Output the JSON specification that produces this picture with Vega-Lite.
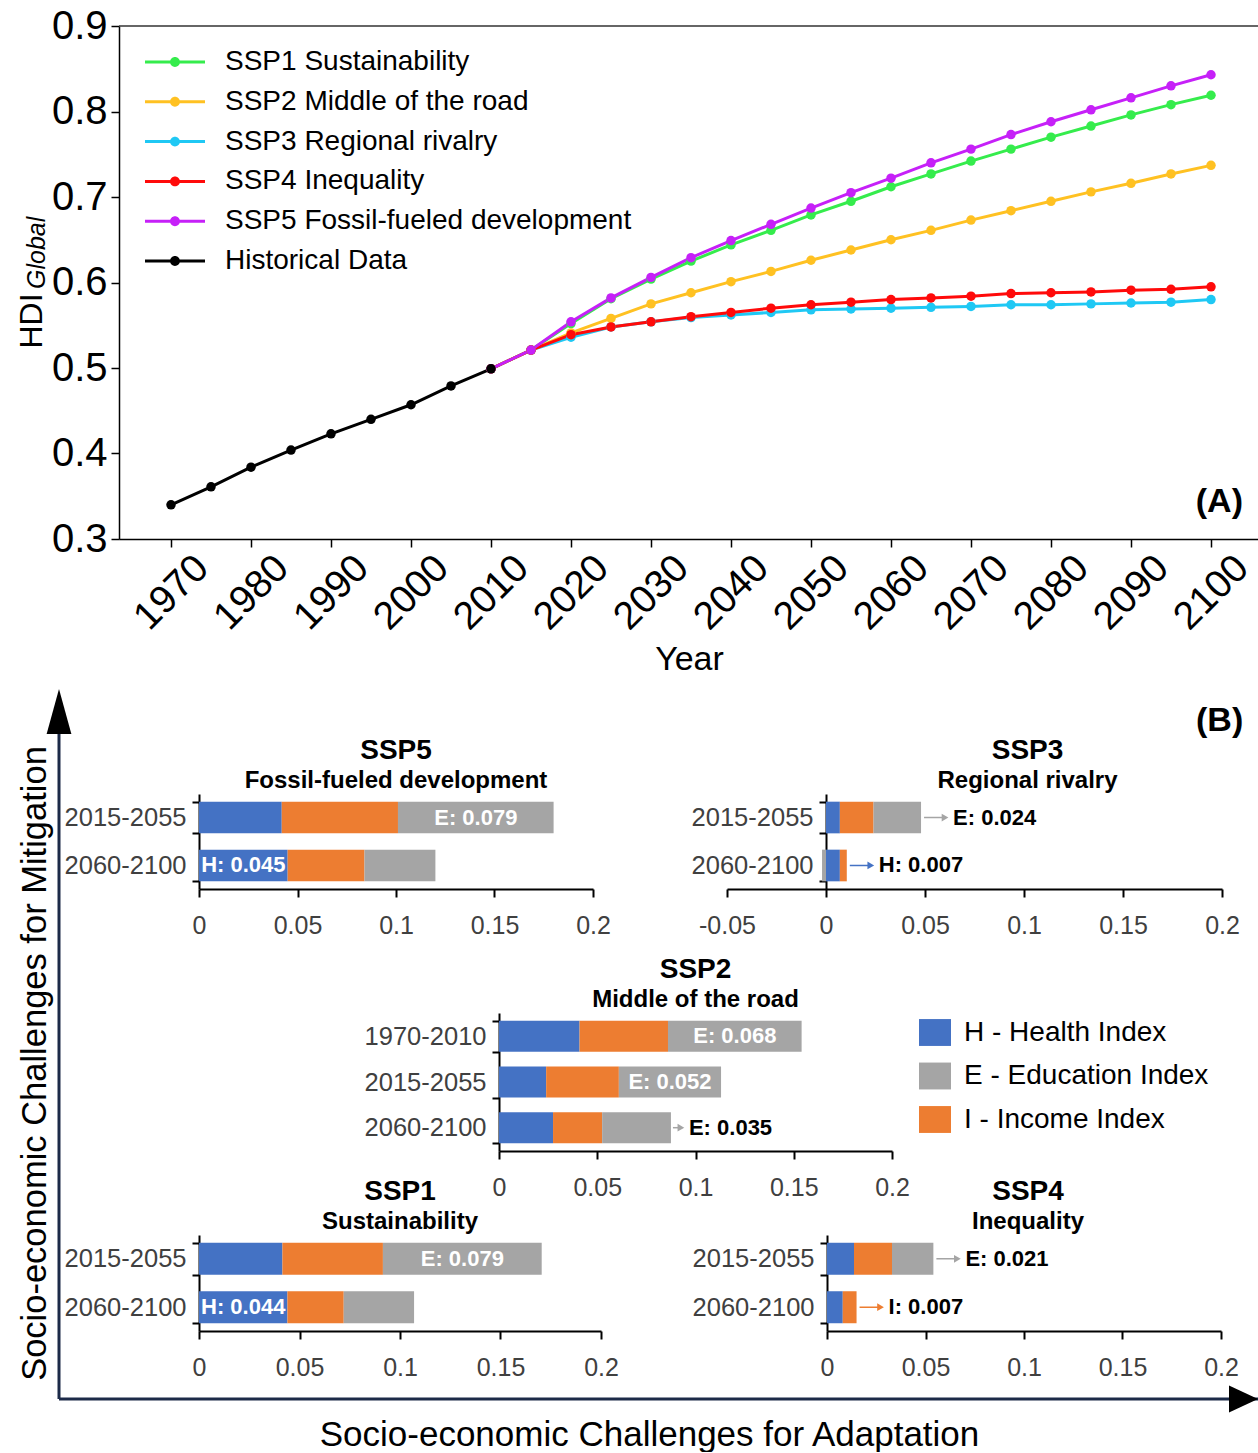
{
"$schema": "https://vega.github.io/schema/vega-lite/v6.json",
"padding": {"left": 15, "top": 6, "right": 0, "bottom": 0},
"config": {
 "font": "Liberation Sans",
 "view": {"stroke": null},
 "axis": {"grid": false, "domainColor": "black", "tickColor": "black", "labelColor": "black", "titleColor": "black", "titleFontWeight": "normal"},
 "title": {"color": "black", "subtitleColor": "black"},
 "legend": {"labelColor": "black"}
},
"datasets": {
 "hdi": [
  {"s":"SSP3 Regional rivalry","year":2010,"v":0.499},{"s":"SSP3 Regional rivalry","year":2015,"v":0.521},{"s":"SSP3 Regional rivalry","year":2020,"v":0.536},{"s":"SSP3 Regional rivalry","year":2025,"v":0.548},{"s":"SSP3 Regional rivalry","year":2030,"v":0.554},{"s":"SSP3 Regional rivalry","year":2035,"v":0.559},{"s":"SSP3 Regional rivalry","year":2040,"v":0.562},{"s":"SSP3 Regional rivalry","year":2045,"v":0.565},{"s":"SSP3 Regional rivalry","year":2050,"v":0.568},{"s":"SSP3 Regional rivalry","year":2055,"v":0.569},{"s":"SSP3 Regional rivalry","year":2060,"v":0.570},{"s":"SSP3 Regional rivalry","year":2065,"v":0.571},{"s":"SSP3 Regional rivalry","year":2070,"v":0.572},{"s":"SSP3 Regional rivalry","year":2075,"v":0.574},{"s":"SSP3 Regional rivalry","year":2080,"v":0.574},{"s":"SSP3 Regional rivalry","year":2085,"v":0.575},{"s":"SSP3 Regional rivalry","year":2090,"v":0.576},{"s":"SSP3 Regional rivalry","year":2095,"v":0.577},{"s":"SSP3 Regional rivalry","year":2100,"v":0.580},
  {"s":"SSP1 Sustainability","year":2010,"v":0.499},{"s":"SSP1 Sustainability","year":2015,"v":0.521},{"s":"SSP1 Sustainability","year":2020,"v":0.552},{"s":"SSP1 Sustainability","year":2025,"v":0.581},{"s":"SSP1 Sustainability","year":2030,"v":0.604},{"s":"SSP1 Sustainability","year":2035,"v":0.625},{"s":"SSP1 Sustainability","year":2040,"v":0.644},{"s":"SSP1 Sustainability","year":2045,"v":0.661},{"s":"SSP1 Sustainability","year":2050,"v":0.679},{"s":"SSP1 Sustainability","year":2055,"v":0.695},{"s":"SSP1 Sustainability","year":2060,"v":0.712},{"s":"SSP1 Sustainability","year":2065,"v":0.727},{"s":"SSP1 Sustainability","year":2070,"v":0.742},{"s":"SSP1 Sustainability","year":2075,"v":0.756},{"s":"SSP1 Sustainability","year":2080,"v":0.770},{"s":"SSP1 Sustainability","year":2085,"v":0.783},{"s":"SSP1 Sustainability","year":2090,"v":0.796},{"s":"SSP1 Sustainability","year":2095,"v":0.808},{"s":"SSP1 Sustainability","year":2100,"v":0.819},
  {"s":"SSP2 Middle of the road","year":2010,"v":0.499},{"s":"SSP2 Middle of the road","year":2015,"v":0.521},{"s":"SSP2 Middle of the road","year":2020,"v":0.541},{"s":"SSP2 Middle of the road","year":2025,"v":0.558},{"s":"SSP2 Middle of the road","year":2030,"v":0.575},{"s":"SSP2 Middle of the road","year":2035,"v":0.588},{"s":"SSP2 Middle of the road","year":2040,"v":0.601},{"s":"SSP2 Middle of the road","year":2045,"v":0.613},{"s":"SSP2 Middle of the road","year":2050,"v":0.626},{"s":"SSP2 Middle of the road","year":2055,"v":0.638},{"s":"SSP2 Middle of the road","year":2060,"v":0.650},{"s":"SSP2 Middle of the road","year":2065,"v":0.661},{"s":"SSP2 Middle of the road","year":2070,"v":0.673},{"s":"SSP2 Middle of the road","year":2075,"v":0.684},{"s":"SSP2 Middle of the road","year":2080,"v":0.695},{"s":"SSP2 Middle of the road","year":2085,"v":0.706},{"s":"SSP2 Middle of the road","year":2090,"v":0.716},{"s":"SSP2 Middle of the road","year":2095,"v":0.727},{"s":"SSP2 Middle of the road","year":2100,"v":0.737},
  {"s":"SSP4 Inequality","year":2010,"v":0.499},{"s":"SSP4 Inequality","year":2015,"v":0.521},{"s":"SSP4 Inequality","year":2020,"v":0.539},{"s":"SSP4 Inequality","year":2025,"v":0.548},{"s":"SSP4 Inequality","year":2030,"v":0.554},{"s":"SSP4 Inequality","year":2035,"v":0.560},{"s":"SSP4 Inequality","year":2040,"v":0.565},{"s":"SSP4 Inequality","year":2045,"v":0.570},{"s":"SSP4 Inequality","year":2050,"v":0.574},{"s":"SSP4 Inequality","year":2055,"v":0.577},{"s":"SSP4 Inequality","year":2060,"v":0.580},{"s":"SSP4 Inequality","year":2065,"v":0.582},{"s":"SSP4 Inequality","year":2070,"v":0.584},{"s":"SSP4 Inequality","year":2075,"v":0.587},{"s":"SSP4 Inequality","year":2080,"v":0.588},{"s":"SSP4 Inequality","year":2085,"v":0.589},{"s":"SSP4 Inequality","year":2090,"v":0.591},{"s":"SSP4 Inequality","year":2095,"v":0.592},{"s":"SSP4 Inequality","year":2100,"v":0.595},
  {"s":"SSP5 Fossil-fueled development","year":2010,"v":0.499},{"s":"SSP5 Fossil-fueled development","year":2015,"v":0.521},{"s":"SSP5 Fossil-fueled development","year":2020,"v":0.554},{"s":"SSP5 Fossil-fueled development","year":2025,"v":0.582},{"s":"SSP5 Fossil-fueled development","year":2030,"v":0.606},{"s":"SSP5 Fossil-fueled development","year":2035,"v":0.629},{"s":"SSP5 Fossil-fueled development","year":2040,"v":0.649},{"s":"SSP5 Fossil-fueled development","year":2045,"v":0.668},{"s":"SSP5 Fossil-fueled development","year":2050,"v":0.687},{"s":"SSP5 Fossil-fueled development","year":2055,"v":0.705},{"s":"SSP5 Fossil-fueled development","year":2060,"v":0.722},{"s":"SSP5 Fossil-fueled development","year":2065,"v":0.740},{"s":"SSP5 Fossil-fueled development","year":2070,"v":0.756},{"s":"SSP5 Fossil-fueled development","year":2075,"v":0.773},{"s":"SSP5 Fossil-fueled development","year":2080,"v":0.788},{"s":"SSP5 Fossil-fueled development","year":2085,"v":0.802},{"s":"SSP5 Fossil-fueled development","year":2090,"v":0.816},{"s":"SSP5 Fossil-fueled development","year":2095,"v":0.830},{"s":"SSP5 Fossil-fueled development","year":2100,"v":0.843},
  {"s":"Historical Data","year":1970,"v":0.340},{"s":"Historical Data","year":1975,"v":0.361},{"s":"Historical Data","year":1980,"v":0.384},{"s":"Historical Data","year":1985,"v":0.404},{"s":"Historical Data","year":1990,"v":0.423},{"s":"Historical Data","year":1995,"v":0.440},{"s":"Historical Data","year":2000,"v":0.457},{"s":"Historical Data","year":2005,"v":0.479},{"s":"Historical Data","year":2010,"v":0.499}
 ],
 "bars": [
  {"panel":"SSP5","period":"2015-2055","index":"H","ord":1,"value":0.042},
  {"panel":"SSP5","period":"2015-2055","index":"I","ord":2,"value":0.059},
  {"panel":"SSP5","period":"2015-2055","index":"E","ord":3,"value":0.079,"lab_in":"E: 0.079"},
  {"panel":"SSP5","period":"2060-2100","index":"H","ord":1,"value":0.045,"lab_in":"H: 0.045"},
  {"panel":"SSP5","period":"2060-2100","index":"I","ord":2,"value":0.039},
  {"panel":"SSP5","period":"2060-2100","index":"E","ord":3,"value":0.036},
  {"panel":"SSP3","period":"2015-2055","index":"H","ord":1,"value":0.007},
  {"panel":"SSP3","period":"2015-2055","index":"I","ord":2,"value":0.017},
  {"panel":"SSP3","period":"2015-2055","index":"E","ord":3,"value":0.024,"lab_out":"E: 0.024"},
  {"panel":"SSP3","period":"2060-2100","index":"H","ord":1,"value":0.007,"lab_out":"H: 0.007"},
  {"panel":"SSP3","period":"2060-2100","index":"I","ord":2,"value":0.0035},
  {"panel":"SSP3","period":"2060-2100","index":"E","ord":3,"value":-0.002},
  {"panel":"SSP2","period":"1970-2010","index":"H","ord":1,"value":0.041},
  {"panel":"SSP2","period":"1970-2010","index":"I","ord":2,"value":0.045},
  {"panel":"SSP2","period":"1970-2010","index":"E","ord":3,"value":0.068,"lab_in":"E: 0.068"},
  {"panel":"SSP2","period":"2015-2055","index":"H","ord":1,"value":0.024},
  {"panel":"SSP2","period":"2015-2055","index":"I","ord":2,"value":0.037},
  {"panel":"SSP2","period":"2015-2055","index":"E","ord":3,"value":0.052,"lab_in":"E: 0.052"},
  {"panel":"SSP2","period":"2060-2100","index":"H","ord":1,"value":0.0275},
  {"panel":"SSP2","period":"2060-2100","index":"I","ord":2,"value":0.025},
  {"panel":"SSP2","period":"2060-2100","index":"E","ord":3,"value":0.035,"lab_out":"E: 0.035"},
  {"panel":"SSP1","period":"2015-2055","index":"H","ord":1,"value":0.0415},
  {"panel":"SSP1","period":"2015-2055","index":"I","ord":2,"value":0.050},
  {"panel":"SSP1","period":"2015-2055","index":"E","ord":3,"value":0.079,"lab_in":"E: 0.079"},
  {"panel":"SSP1","period":"2060-2100","index":"H","ord":1,"value":0.044,"lab_in":"H: 0.044"},
  {"panel":"SSP1","period":"2060-2100","index":"I","ord":2,"value":0.028},
  {"panel":"SSP1","period":"2060-2100","index":"E","ord":3,"value":0.035},
  {"panel":"SSP4","period":"2015-2055","index":"H","ord":1,"value":0.0137},
  {"panel":"SSP4","period":"2015-2055","index":"I","ord":2,"value":0.0193},
  {"panel":"SSP4","period":"2015-2055","index":"E","ord":3,"value":0.021,"lab_out":"E: 0.021"},
  {"panel":"SSP4","period":"2060-2100","index":"H","ord":1,"value":0.008},
  {"panel":"SSP4","period":"2060-2100","index":"I","ord":2,"value":0.007,"lab_out":"I: 0.007"},
  {"panel":"SSP4","period":"2060-2100","index":"E","ord":3,"value":0.0}
 ]
},
"bounds": "flush",
"spacing": 768,
"vconcat": [
 {"bounds": "flush", "spacing": 0, "hconcat": [
  {"width": 60, "height": 513, "data": {"values": []}, "mark": "point"},
  {"width": 1140, "height": 513, "data": {"name": "hdi"},
   "layer": [
    {"data": {"values": [{}]}, "mark": {"type": "rule", "color": "#333333", "strokeWidth": 1.5}, "encoding": {"y": {"datum": 0.9, "type": "quantitative"}}},
    {"mark": {"type": "line", "strokeWidth": 3},
     "encoding": {
      "x": {"field": "year", "type": "quantitative", "scale": {"domain": [1963.5, 2106], "nice": false, "zero": false},
            "axis": {"title": "Year", "titleFontSize": 34, "titlePadding": 6, "values": [1970,1980,1990,2000,2010,2020,2030,2040,2050,2060,2070,2080,2090,2100], "format": "d", "labelAngle": -45, "labelAlign": "center", "labelBaseline": "middle", "labelFontSize": 39, "labelPadding": 45, "tickSize": 8, "tickWidth": 1.5, "domainWidth": 1.5, "labelFlush": false, "labelOverlap": false}},
      "y": {"field": "v", "type": "quantitative", "scale": {"domain": [0.3, 0.9], "nice": false, "zero": false},
            "axis": {"title": "HDI", "titleFontSize": 32, "titleX": -78, "titleY": 322, "titleAngle": 270, "titleAlign": "left", "titleBaseline": "alphabetic", "values": [0.3,0.4,0.5,0.6,0.7,0.8,0.9], "format": ".1f", "labelFontSize": 40, "labelPadding": 4, "tickSize": 8, "tickWidth": 1.5, "domainWidth": 1.5, "labelFlush": false, "labelOverlap": false}},
      "stroke": {"field": "s", "type": "nominal", "scale": {"domain": ["SSP1 Sustainability","SSP2 Middle of the road","SSP3 Regional rivalry","SSP4 Inequality","SSP5 Fossil-fueled development","Historical Data"], "range": ["#35EC4C","#FFC122","#1FC8F4","#FF0A0A","#C620F8","#000000"]},
       "legend": {"orient": "none", "legendX": 101, "legendY": 21, "title": null, "symbolType": "M-2,-0.1L2,-0.1L2,0.1L-2,0.1Z M0.33,0A0.33,0.33 0 1 1 -0.33,0A0.33,0.33 0 1 1 0.33,0Z", "symbolSize": 900, "symbolStrokeWidth": 0, "symbolOpacity": 1, "labelFontSize": 28, "labelOffset": 35, "rowPadding": 10.8, "padding": 0, "labelLimit": 600}}
     }},
    {"mark": {"type": "point", "filled": true, "size": 90, "opacity": 1},
     "encoding": {
      "x": {"field": "year", "type": "quantitative"},
      "y": {"field": "v", "type": "quantitative"},
      "fill": {"field": "s", "type": "nominal", "scale": {"domain": ["SSP1 Sustainability","SSP2 Middle of the road","SSP3 Regional rivalry","SSP4 Inequality","SSP5 Fossil-fueled development","Historical Data"], "range": ["#35EC4C","#FFC122","#1FC8F4","#FF0A0A","#C620F8","#000000"]},
       "legend": {"orient": "none", "legendX": 101, "legendY": 21, "title": null, "symbolType": "M-2,-0.1L2,-0.1L2,0.1L-2,0.1Z M0.33,0A0.33,0.33 0 1 1 -0.33,0A0.33,0.33 0 1 1 0.33,0Z", "symbolSize": 900, "symbolStrokeWidth": 0, "symbolOpacity": 1, "labelFontSize": 28, "labelOffset": 35, "rowPadding": 10.8, "padding": 0, "labelLimit": 600}}
     }},
    {"data": {"values": [{}]}, "mark": {"type": "text", "text": "(A)", "fontSize": 34, "fontWeight": "bold", "align": "right", "baseline": "alphabetic", "color": "black"},
     "encoding": {"x": {"datum": 2104, "type": "quantitative"}, "y": {"datum": 0.331, "type": "quantitative"}}},
    {"data": {"values": [{}]}, "mark": {"type": "text", "text": "Global", "fontSize": 25, "fontStyle": "italic", "angle": 270, "align": "left", "baseline": "alphabetic", "color": "black"},
     "encoding": {"x": {"datum": 1954.25, "type": "quantitative"}, "y": {"datum": 0.5924, "type": "quantitative"}}}
   ]}
 ]},
 {"bounds": "flush", "spacing": 605, "vconcat": [
  {"bounds": "flush", "spacing": 0, "hconcat": [
   {"width": 140, "height": 605, "data": {"values": [{}]},
    "layer": [
     {"mark": {"type": "rule", "color": "#1c2a48", "strokeWidth": 3, "y2Offset": -93},
      "encoding": {"x": {"datum": 0, "type": "quantitative", "scale": {"domain": [0, 1]}, "axis": null},
                   "y": {"datum": 0, "type": "quantitative", "scale": {"domain": [0, 1]},
                         "axis": {"domain": false, "ticks": false, "labels": false, "title": "Socio-economic Challenges for Mitigation", "titleFontSize": 34.5, "titleX": -14, "titleY": 269, "titleAngle": 270, "titleAlign": "center", "titleBaseline": "alphabetic"}},
                   "y2": {"datum": 1}}},
     {"mark": {"type": "point", "shape": "M-0.55,0L0,-2L0.55,0Z", "size": 2025, "filled": true, "color": "#000000", "opacity": 1, "yOffset": -60},
      "encoding": {"x": {"datum": 0, "type": "quantitative"}, "y": {"datum": 1, "type": "quantitative"}}}
    ]},
   {"bounds": "flush", "spacing": 219, "vconcat": [
    {"bounds": "flush", "spacing": 134,
     "title": {"text": "(B)", "anchor": "start", "frame": "group", "fontSize": 34, "fontWeight": "bold", "dx": 997, "offset": -1},
     "hconcat": [
     {"width": 394, "height": 95,
      "title": {"text": "SSP5", "subtitle": "Fossil-fueled  development", "fontSize": 28, "fontWeight": "bold", "subtitleFontSize": 24, "subtitleFontWeight": "bold", "anchor": "middle", "frame": "group", "offset": -11, "subtitlePadding": 4},
      "data": {"name": "bars"},
      "transform": [
       {"filter": "datum.panel == 'SSP5'"},
       {"stack": "value", "groupby": ["period"], "sort": [{"field": "ord", "order": "ascending"}], "as": ["x0", "x1"]},
       {"calculate": "(datum.x0 + datum.x1) / 2", "as": "xm"},
       {"joinaggregate": [{"op": "max", "field": "x1", "as": "xend"}], "groupby": ["period"]}
      ],
      "encoding": {"y": {"field": "period", "type": "nominal", "scale": {"type": "band", "paddingInner": 0.34, "paddingOuter": 0.16},
                         "axis": {"title": null, "tickBand": "extent", "tickSize": 7, "tickWidth": 2, "domainWidth": 2, "labelPadding": 6, "labelFontSize": 25.5, "labelColor": "#404040"}}},
      "layer": [
       {"mark": {"type": "bar"},
        "encoding": {"x": {"field": "x0", "type": "quantitative", "scale": {"domain": [0, 0.2], "nice": false},
                           "axis": {"title": null, "values": [0,0.05,0.1,0.15,0.2], "labelExpr": "format(datum.value, '~g')", "tickSize": 8, "tickWidth": 2, "domainWidth": 2, "labelPadding": 16, "labelFontSize": 25, "labelColor": "#404040", "labelFlush": false, "labelOverlap": false}},
                     "x2": {"field": "x1"},
                     "color": {"field": "index", "type": "nominal", "scale": {"domain": ["H","E","I"], "range": ["#4472C4","#A5A5A5","#ED7D31"]},
                               "legend": {"orient": "none", "legendX": 860, "legendY": 990.5, "title": null, "symbolType": "M-1,-0.84L1,-0.84L1,0.84L-1,0.84Z", "symbolSize": 1024, "symbolStrokeWidth": 0, "symbolOpacity": 1, "labelFontSize": 28, "labelOffset": 13, "rowPadding": 13.5, "padding": 0, "labelLimit": 400, "labelExpr": "datum.label == 'H' ? 'H - Health Index' : datum.label == 'E' ? 'E - Education Index' : 'I - Income Index'"}}}},
       {"transform": [{"filter": "isValid(datum.lab_in)"}],
        "mark": {"type": "text", "align": "center", "baseline": "middle", "fontSize": 22, "fontWeight": "bold", "color": "white"},
        "encoding": {"x": {"field": "xm", "type": "quantitative"}, "text": {"field": "lab_in"}}}
      ]},
     {"width": 495, "height": 95,
      "title": {"text": "SSP3", "subtitle": "Regional  rivalry", "fontSize": 28, "fontWeight": "bold", "subtitleFontSize": 24, "subtitleFontWeight": "bold", "anchor": "middle", "frame": "group", "offset": -11, "subtitlePadding": 4, "dx": 53},
      "data": {"name": "bars"},
      "transform": [
       {"filter": "datum.panel == 'SSP3'"},
       {"stack": "value", "groupby": ["period"], "sort": [{"field": "ord", "order": "ascending"}], "as": ["x0", "x1"]},
       {"calculate": "(datum.x0 + datum.x1) / 2", "as": "xm"},
       {"joinaggregate": [{"op": "max", "field": "x1", "as": "xend"}], "groupby": ["period"]}
      ],
      "encoding": {"y": {"field": "period", "type": "nominal", "scale": {"type": "band", "paddingInner": 0.34, "paddingOuter": 0.16},
                         "axis": {"title": null, "offset": -99, "tickBand": "extent", "tickSize": 7, "tickWidth": 2, "domainWidth": 2, "labelPadding": 6, "labelFontSize": 25.5, "labelColor": "#404040"}}},
      "layer": [
       {"mark": {"type": "bar"},
        "encoding": {"x": {"field": "x0", "type": "quantitative", "scale": {"domain": [-0.05, 0.2], "nice": false, "zero": false},
                           "axis": {"title": null, "values": [-0.05,0,0.05,0.1,0.15,0.2], "labelExpr": "datum.value < 0 ? '-' + format(-datum.value, '~g') : format(datum.value, '~g')", "tickSize": 8, "tickWidth": 2, "domainWidth": 2, "labelPadding": 16, "labelFontSize": 25, "labelColor": "#404040", "labelFlush": false, "labelOverlap": false}},
                     "x2": {"field": "x1"},
                     "color": {"field": "index", "type": "nominal", "scale": {"domain": ["H","E","I"], "range": ["#4472C4","#A5A5A5","#ED7D31"]},
                               "legend": {"orient": "none", "legendX": 860, "legendY": 990.5, "title": null, "symbolType": "M-1,-0.84L1,-0.84L1,0.84L-1,0.84Z", "symbolSize": 1024, "symbolStrokeWidth": 0, "symbolOpacity": 1, "labelFontSize": 28, "labelOffset": 13, "rowPadding": 13.5, "padding": 0, "labelLimit": 400, "labelExpr": "datum.label == 'H' ? 'H - Health Index' : datum.label == 'E' ? 'E - Education Index' : 'I - Income Index'"}}}},
       {"transform": [{"filter": "isValid(datum.lab_out)"}],
        "mark": {"type": "rule", "strokeWidth": 1.5, "xOffset": 3, "x2Offset": 22},
        "encoding": {"x": {"field": "xend", "type": "quantitative"}, "x2": {"field": "xend"}, "color": {"field": "index", "type": "nominal", "legend": null}}},
       {"transform": [{"filter": "isValid(datum.lab_out)"}],
        "mark": {"type": "point", "shape": "triangle-right", "filled": true, "size": 60, "opacity": 1, "xOffset": 24},
        "encoding": {"x": {"field": "xend", "type": "quantitative"}, "color": {"field": "index", "type": "nominal", "legend": null}}},
       {"transform": [{"filter": "isValid(datum.lab_out)"}],
        "mark": {"type": "text", "align": "left", "baseline": "middle", "dx": 32, "fontSize": 22, "fontWeight": "bold", "color": "black"},
        "encoding": {"x": {"field": "xend", "type": "quantitative"}, "text": {"field": "lab_out"}}}
      ]}
    ]},
    {"bounds": "flush", "spacing": 222, "vconcat": [
     {"bounds": "flush", "spacing": 0, "hconcat": [
      {"width": 300, "height": 138, "data": {"values": []}, "mark": "point"},
      {"width": 393, "height": 138,
       "title": {"text": "SSP2", "subtitle": "Middle of the road", "fontSize": 28, "fontWeight": "bold", "subtitleFontSize": 24, "subtitleFontWeight": "bold", "anchor": "middle", "frame": "group", "offset": -11, "subtitlePadding": 4},
       "data": {"name": "bars"},
       "transform": [
        {"filter": "datum.panel == 'SSP2'"},
        {"stack": "value", "groupby": ["period"], "sort": [{"field": "ord", "order": "ascending"}], "as": ["x0", "x1"]},
        {"calculate": "(datum.x0 + datum.x1) / 2", "as": "xm"},
        {"joinaggregate": [{"op": "max", "field": "x1", "as": "xend"}], "groupby": ["period"]}
       ],
       "encoding": {"y": {"field": "period", "type": "nominal", "scale": {"type": "band", "paddingInner": 0.32, "paddingOuter": 0.17},
                          "axis": {"title": null, "tickBand": "extent", "tickSize": 7, "tickWidth": 2, "domainWidth": 2, "labelPadding": 6, "labelFontSize": 25.5, "labelColor": "#404040"}}},
       "layer": [
        {"mark": {"type": "bar"},
         "encoding": {"x": {"field": "x0", "type": "quantitative", "scale": {"domain": [0, 0.2], "nice": false},
                            "axis": {"title": null, "values": [0,0.05,0.1,0.15,0.2], "labelExpr": "format(datum.value, '~g')", "tickSize": 8, "tickWidth": 2, "domainWidth": 2, "labelPadding": 16, "labelFontSize": 25, "labelColor": "#404040", "labelFlush": false, "labelOverlap": false}},
                      "x2": {"field": "x1"},
                      "color": {"field": "index", "type": "nominal", "scale": {"domain": ["H","E","I"], "range": ["#4472C4","#A5A5A5","#ED7D31"]},
                                "legend": {"orient": "none", "legendX": 860, "legendY": 990.5, "title": null, "symbolType": "M-1,-0.84L1,-0.84L1,0.84L-1,0.84Z", "symbolSize": 1024, "symbolStrokeWidth": 0, "symbolOpacity": 1, "labelFontSize": 28, "labelOffset": 13, "rowPadding": 13.5, "padding": 0, "labelLimit": 400, "labelExpr": "datum.label == 'H' ? 'H - Health Index' : datum.label == 'E' ? 'E - Education Index' : 'I - Income Index'"}}}},
        {"transform": [{"filter": "isValid(datum.lab_in)"}],
         "mark": {"type": "text", "align": "center", "baseline": "middle", "fontSize": 22, "fontWeight": "bold", "color": "white"},
         "encoding": {"x": {"field": "xm", "type": "quantitative"}, "text": {"field": "lab_in"}}},
        {"transform": [{"filter": "isValid(datum.lab_out)"}],
         "mark": {"type": "rule", "strokeWidth": 1.5, "xOffset": 2, "x2Offset": 8},
         "encoding": {"x": {"field": "xend", "type": "quantitative"}, "x2": {"field": "xend"}, "color": {"field": "index", "type": "nominal", "legend": null}}},
        {"transform": [{"filter": "isValid(datum.lab_out)"}],
         "mark": {"type": "point", "shape": "triangle-right", "filled": true, "size": 60, "opacity": 1, "xOffset": 10},
         "encoding": {"x": {"field": "xend", "type": "quantitative"}, "color": {"field": "index", "type": "nominal", "legend": null}}},
        {"transform": [{"filter": "isValid(datum.lab_out)"}],
         "mark": {"type": "text", "align": "left", "baseline": "middle", "dx": 18, "fontSize": 22, "fontWeight": "bold", "color": "black"},
         "encoding": {"x": {"field": "xend", "type": "quantitative"}, "text": {"field": "lab_out"}}}
       ]}
     ]},
     {"bounds": "flush", "spacing": 226, "hconcat": [
      {"width": 402, "height": 96,
       "title": {"text": "SSP1", "subtitle": "Sustainability", "fontSize": 28, "fontWeight": "bold", "subtitleFontSize": 24, "subtitleFontWeight": "bold", "anchor": "middle", "frame": "group", "offset": -11, "subtitlePadding": 4},
       "data": {"name": "bars"},
       "transform": [
        {"filter": "datum.panel == 'SSP1'"},
        {"stack": "value", "groupby": ["period"], "sort": [{"field": "ord", "order": "ascending"}], "as": ["x0", "x1"]},
        {"calculate": "(datum.x0 + datum.x1) / 2", "as": "xm"},
        {"joinaggregate": [{"op": "max", "field": "x1", "as": "xend"}], "groupby": ["period"]}
       ],
       "encoding": {"y": {"field": "period", "type": "nominal", "scale": {"type": "band", "paddingInner": 0.34, "paddingOuter": 0.16},
                          "axis": {"title": null, "tickBand": "extent", "tickSize": 7, "tickWidth": 2, "domainWidth": 2, "labelPadding": 6, "labelFontSize": 25.5, "labelColor": "#404040"}}},
       "layer": [
        {"mark": {"type": "bar"},
         "encoding": {"x": {"field": "x0", "type": "quantitative", "scale": {"domain": [0, 0.2], "nice": false},
                            "axis": {"title": null, "values": [0,0.05,0.1,0.15,0.2], "labelExpr": "format(datum.value, '~g')", "tickSize": 8, "tickWidth": 2, "domainWidth": 2, "labelPadding": 16, "labelFontSize": 25, "labelColor": "#404040", "labelFlush": false, "labelOverlap": false}},
                      "x2": {"field": "x1"},
                      "color": {"field": "index", "type": "nominal", "scale": {"domain": ["H","E","I"], "range": ["#4472C4","#A5A5A5","#ED7D31"]},
                                "legend": {"orient": "none", "legendX": 860, "legendY": 990.5, "title": null, "symbolType": "M-1,-0.84L1,-0.84L1,0.84L-1,0.84Z", "symbolSize": 1024, "symbolStrokeWidth": 0, "symbolOpacity": 1, "labelFontSize": 28, "labelOffset": 13, "rowPadding": 13.5, "padding": 0, "labelLimit": 400, "labelExpr": "datum.label == 'H' ? 'H - Health Index' : datum.label == 'E' ? 'E - Education Index' : 'I - Income Index'"}}}},
        {"transform": [{"filter": "isValid(datum.lab_in)"}],
         "mark": {"type": "text", "align": "center", "baseline": "middle", "fontSize": 22, "fontWeight": "bold", "color": "white"},
         "encoding": {"x": {"field": "xm", "type": "quantitative"}, "text": {"field": "lab_in"}}}
       ]},
      {"width": 394, "height": 96,
       "title": {"text": "SSP4", "subtitle": "Inequality", "fontSize": 28, "fontWeight": "bold", "subtitleFontSize": 24, "subtitleFontWeight": "bold", "anchor": "middle", "frame": "group", "offset": -11, "subtitlePadding": 4, "dx": 4},
       "data": {"name": "bars"},
       "transform": [
        {"filter": "datum.panel == 'SSP4'"},
        {"stack": "value", "groupby": ["period"], "sort": [{"field": "ord", "order": "ascending"}], "as": ["x0", "x1"]},
        {"calculate": "(datum.x0 + datum.x1) / 2", "as": "xm"},
        {"joinaggregate": [{"op": "max", "field": "x1", "as": "xend"}], "groupby": ["period"]}
       ],
       "encoding": {"y": {"field": "period", "type": "nominal", "scale": {"type": "band", "paddingInner": 0.34, "paddingOuter": 0.16},
                          "axis": {"title": null, "tickBand": "extent", "tickSize": 7, "tickWidth": 2, "domainWidth": 2, "labelPadding": 6, "labelFontSize": 25.5, "labelColor": "#404040"}}},
       "layer": [
        {"mark": {"type": "bar"},
         "encoding": {"x": {"field": "x0", "type": "quantitative", "scale": {"domain": [0, 0.2], "nice": false},
                            "axis": {"title": null, "values": [0,0.05,0.1,0.15,0.2], "labelExpr": "format(datum.value, '~g')", "tickSize": 8, "tickWidth": 2, "domainWidth": 2, "labelPadding": 16, "labelFontSize": 25, "labelColor": "#404040", "labelFlush": false, "labelOverlap": false}},
                      "x2": {"field": "x1"},
                      "color": {"field": "index", "type": "nominal", "scale": {"domain": ["H","E","I"], "range": ["#4472C4","#A5A5A5","#ED7D31"]},
                                "legend": {"orient": "none", "legendX": 860, "legendY": 990.5, "title": null, "symbolType": "M-1,-0.84L1,-0.84L1,0.84L-1,0.84Z", "symbolSize": 1024, "symbolStrokeWidth": 0, "symbolOpacity": 1, "labelFontSize": 28, "labelOffset": 13, "rowPadding": 13.5, "padding": 0, "labelLimit": 400, "labelExpr": "datum.label == 'H' ? 'H - Health Index' : datum.label == 'E' ? 'E - Education Index' : 'I - Income Index'"}}}},
        {"transform": [{"filter": "isValid(datum.lab_out)"}],
         "mark": {"type": "rule", "strokeWidth": 1.5, "xOffset": 3, "x2Offset": 22},
         "encoding": {"x": {"field": "xend", "type": "quantitative"}, "x2": {"field": "xend"}, "color": {"field": "index", "type": "nominal", "legend": null}}},
        {"transform": [{"filter": "isValid(datum.lab_out)"}],
         "mark": {"type": "point", "shape": "triangle-right", "filled": true, "size": 60, "opacity": 1, "xOffset": 24},
         "encoding": {"x": {"field": "xend", "type": "quantitative"}, "color": {"field": "index", "type": "nominal", "legend": null}}},
        {"transform": [{"filter": "isValid(datum.lab_out)"}],
         "mark": {"type": "text", "align": "left", "baseline": "middle", "dx": 32, "fontSize": 22, "fontWeight": "bold", "color": "black"},
         "encoding": {"x": {"field": "xend", "type": "quantitative"}, "text": {"field": "lab_out"}}}
       ]}
     ]}
    ]}
   ]}
  ]},
  {"width": 1200, "height": 1, "data": {"values": [{}]},
   "layer": [
    {"mark": {"type": "rule", "color": "#1c2a48", "strokeWidth": 3},
     "encoding": {"x": {"datum": 0, "type": "quantitative", "scale": {"domain": [0, 1], "nice": false},
                        "axis": {"domain": false, "ticks": false, "labels": false, "title": "Socio-economic Challenges for Adaptation", "titleFontSize": 35, "titleX": 590, "titleY": 45, "titleAlign": "center", "titleBaseline": "alphabetic"}},
                  "x2": {"datum": 1},
                  "y": {"datum": 1, "type": "quantitative", "scale": {"domain": [0, 1]}, "axis": null}}},
    {"mark": {"type": "point", "shape": "M0,-0.6L1.3,0L0,0.6Z", "size": 2025, "filled": true, "color": "#000000", "opacity": 1, "xOffset": -30},
     "encoding": {"x": {"datum": 1, "type": "quantitative"}, "y": {"datum": 1, "type": "quantitative"}}}
   ]}
 ]}
]
}
